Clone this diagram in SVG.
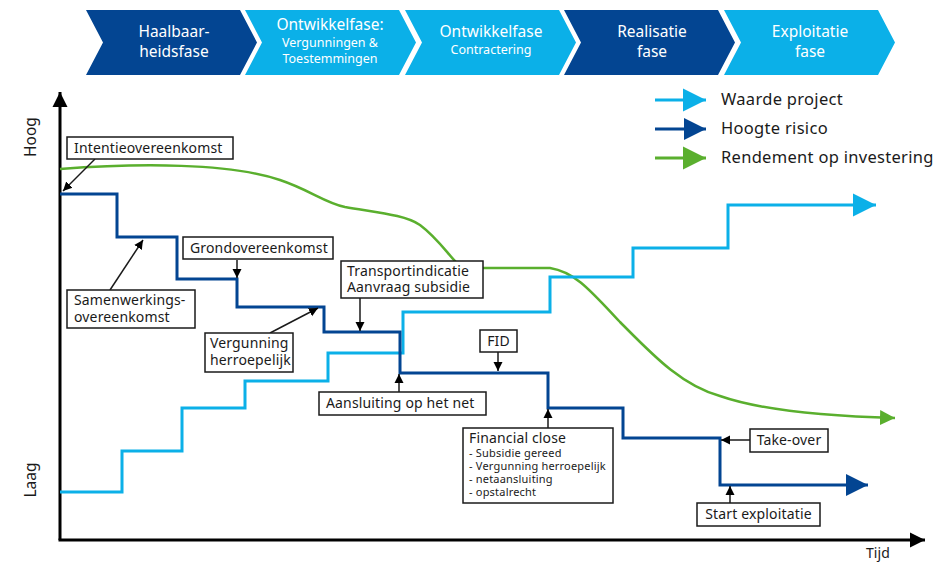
<svg xmlns="http://www.w3.org/2000/svg" width="940" height="563" viewBox="0 0 940 563">
<style>
text{font-family:"Noto Sans","Open Sans","Liberation Sans",sans-serif;fill:#1a1a1a}
.hd{fill:#fff;text-anchor:middle;font-size:15.5px}
.hs{fill:#fff;text-anchor:middle;font-size:12.5px}
.dk{fill:#034592}
.lt{fill:#0bb0e8}
.box{fill:#fff;stroke:#1a1a1a;stroke-width:1.5}
.lb{font-size:14px;letter-spacing:0.15px}
.sm{font-size:11px;letter-spacing:0.2px}
.ann{stroke:#1a1a1a;stroke-width:1.5;fill:none;marker-end:url(#ah)}
.ax{stroke:#000;stroke-width:3;fill:none}
.lg{font-size:16.5px;letter-spacing:0.3px}
</style>
<defs>
<marker id="ah" viewBox="0 0 10 10" refX="10" refY="5" markerWidth="9" markerHeight="14" markerUnits="userSpaceOnUse" orient="auto"><path d="M0,0L10,5L0,10z" fill="#000"/></marker>
<marker id="axh" viewBox="0 0 10 10" refX="10" refY="5" markerWidth="15" markerHeight="30" markerUnits="userSpaceOnUse" orient="auto"><path d="M0,0L10,5L0,10z" fill="#000"/></marker>
<marker id="mL" viewBox="0 0 10 10" refX="10" refY="5" markerWidth="23" markerHeight="26" markerUnits="userSpaceOnUse" orient="auto"><path d="M0,0L10,5L0,10z" fill="#0bb0e8"/></marker>
<marker id="mD" viewBox="0 0 10 10" refX="10" refY="5" markerWidth="22" markerHeight="26" markerUnits="userSpaceOnUse" orient="auto"><path d="M0,0L10,5L0,10z" fill="#034592"/></marker>
<marker id="mG" viewBox="0 0 10 10" refX="10" refY="5" markerWidth="15" markerHeight="30" markerUnits="userSpaceOnUse" orient="auto"><path d="M0,0L10,5L0,10z" fill="#5aaf2e"/></marker>
<marker id="mGl" viewBox="0 0 10 10" refX="10" refY="5" markerWidth="23" markerHeight="26" markerUnits="userSpaceOnUse" orient="auto"><path d="M0,0L10,5L0,10z" fill="#5aaf2e"/></marker>
</defs>

<g id="phases">
<g id="phase1"><path class="dk" d="M86,10H240L257,42.5L240,75H86L103,42.5z"/><text class="hd" x="174" y="37">Haalbaar-</text><text class="hd" x="174" y="57">heidsfase</text></g>
<g id="phase2"><path class="lt" d="M245,10H399L416,42.5L399,75H245L262,42.5z"/><text class="hd" x="330" y="30">Ontwikkelfase:</text><text class="hs" x="330" y="47">Vergunningen &amp;</text><text class="hs" x="330" y="63">Toestemmingen</text></g>
<g id="phase3"><path class="lt" d="M405,10H559L576,42.5L559,75H405L422,42.5z"/><text class="hd" x="491" y="37">Ontwikkelfase</text><text class="hs" x="491" y="54">Contractering</text></g>
<g id="phase4"><path class="dk" d="M564,10H718L735,42.5L718,75H564L581,42.5z"/><text class="hd" x="652" y="37">Realisatie</text><text class="hd" x="652" y="57">fase</text></g>
<g id="phase5"><path class="lt" d="M724,10H878L895,42.5L878,75H724L741,42.5z"/><text class="hd" x="810" y="37">Exploitatie</text><text class="hd" x="810" y="57">fase</text></g>
</g>

<g id="legend">
<line x1="655" y1="100" x2="706" y2="100" stroke="#0bb0e8" stroke-width="3" marker-end="url(#mL)"/>
<text class="lg" x="721" y="105">Waarde project</text>
<line x1="655" y1="129" x2="706" y2="129" stroke="#034592" stroke-width="3" marker-end="url(#mD)"/>
<text class="lg" x="721" y="134">Hoogte risico</text>
<line x1="655" y1="158" x2="706" y2="158" stroke="#5aaf2e" stroke-width="3" marker-end="url(#mGl)"/>
<text class="lg" x="721" y="163">Rendement op investering</text>
</g>

<g id="axes">
<line class="ax" x1="60" y1="540" x2="60" y2="92" marker-end="url(#axh)"/>
<line class="ax" x1="58.5" y1="540" x2="925" y2="540" marker-end="url(#axh)"/>
<text transform="translate(36,137) rotate(-90)" text-anchor="middle" font-size="15.5">Hoog</text>
<text transform="translate(36,480) rotate(-90)" text-anchor="middle" font-size="15.5">Laag</text>
<text class="lb" x="878" y="558" text-anchor="middle">Tijd</text>
</g>

<g id="connectors">
<path id="rendement" d="M60,169C140,163 230,163 280,180C310,190 325,203 345,207C380,213 405,215 420,225C440,240 450,258 462,268L550,268C575,272 590,290 620,322C650,352 680,385 720,396C760,410 820,416 895,418" fill="none" stroke="#5aaf2e" stroke-width="2.5" marker-end="url(#mG)"/>
<path id="waarde" d="M60,492H122V451H182V408H245V381H328V353H403V312H550V277H633V248H728V205H876" fill="none" stroke="#0bb0e8" stroke-width="3" marker-end="url(#mL)"/>
<path id="risico" d="M60,194H117V237H177V279H237V307H324V332H400V373H548V408H623V438H720V485H868" fill="none" stroke="#034592" stroke-width="3" marker-end="url(#mD)"/>
<line class="ann" x1="95" y1="159" x2="63" y2="191"/>
<line class="ann" x1="110" y1="290" x2="143" y2="240"/>
<line class="ann" x1="237" y1="260" x2="237" y2="278"/>
<line class="ann" x1="270" y1="333" x2="318" y2="308"/>
<line class="ann" x1="360" y1="298" x2="360" y2="331"/>
<line class="ann" x1="399" y1="392" x2="399" y2="374"/>
<line class="ann" x1="498" y1="352" x2="498" y2="371"/>
<line class="ann" x1="548" y1="428" x2="548" y2="409"/>
<line class="ann" x1="750" y1="440" x2="721" y2="440"/>
<line class="ann" x1="730" y1="503" x2="730" y2="486"/>
</g>

<g id="n-intentie"><rect class="box" x="67" y="137" width="166" height="22"/><text class="lb" x="74" y="153">Intentieovereenkomst</text></g>
<g id="n-samenwerking"><rect class="box" x="67" y="290" width="128" height="38"/><text class="lb" x="74" y="305">Samenwerkings-</text><text class="lb" x="74" y="322">overeenkomst</text></g>
<g id="n-grond"><rect class="box" x="183" y="237" width="150" height="22"/><text class="lb" x="190" y="253">Grondovereenkomst</text></g>
<g id="n-vergunning"><rect class="box" x="205" y="333" width="88" height="39"/><text class="lb" x="210" y="348">Vergunning</text><text class="lb" x="210" y="365">herroepelijk</text></g>
<g id="n-transport"><rect class="box" x="341" y="261" width="142" height="37"/><text class="lb" x="347" y="276">Transportindicatie</text><text class="lb" x="347" y="292">Aanvraag subsidie</text></g>
<g id="n-aansluiting"><rect class="box" x="319" y="392" width="167" height="23"/><text class="lb" x="326" y="408">Aansluiting op het net</text></g>
<g id="n-fid"><rect class="box" x="480" y="330" width="37" height="22"/><text class="lb" x="498.5" y="346" text-anchor="middle">FID</text></g>
<g id="n-financial"><rect class="box" x="463" y="428" width="150" height="75"/><text class="lb" x="469" y="443">Financial close</text><text class="sm" x="469" y="457">- Subsidie gereed</text><text class="sm" x="469" y="470">- Vergunning herroepelijk</text><text class="sm" x="469" y="483">- netaansluiting</text><text class="sm" x="469" y="496">- opstalrecht</text></g>
<g id="n-takeover"><rect class="box" x="750" y="429" width="78" height="23"/><text class="lb" x="789" y="445" text-anchor="middle">Take-over</text></g>
<g id="n-start"><rect class="box" x="697" y="503" width="123" height="23"/><text class="lb" x="758.5" y="519" text-anchor="middle">Start exploitatie</text></g>
</svg>
